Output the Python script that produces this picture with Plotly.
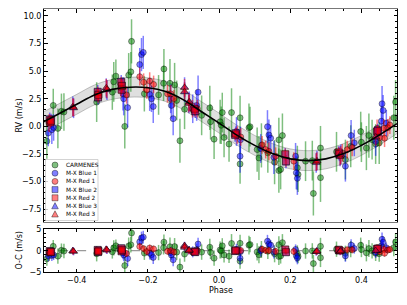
import numpy as np
import plotly.graph_objects as go

# ---------------- data ----------------
model_phase = [-0.50, -0.45, -0.40, -0.35, -0.30, -0.25, -0.20, -0.15, -0.10, -0.05, 0.00,
               0.05, 0.10, 0.15, 0.20, 0.25, 0.30, 0.35, 0.40, 0.45, 0.50]
model_rv = [0.30, 1.15, 2.00, 2.85, 3.35, 3.55, 3.50, 3.15, 2.40, 1.35, 0.30,
            -0.79, -1.72, -2.46, -2.94, -3.10, -2.94, -2.46, -1.72, -0.79, 0.25]
band_half = 0.9

carm_phase = [-0.484, -0.466, -0.453, -0.443, -0.436, -0.344, -0.300, -0.296, -0.290, -0.265,
              -0.254, -0.248, -0.246, -0.210, -0.170, -0.156, -0.155, -0.138, -0.125, -0.119,
              -0.110, -0.097, -0.049, -0.026, -0.024, -0.014, 0.003, 0.006, 0.009, 0.014,
              0.028, 0.035, 0.059, 0.059, 0.084, 0.087, 0.107, 0.112, 0.119, 0.137,
              0.156, 0.168, 0.168, 0.173, 0.178, 0.220, 0.222, 0.243, 0.262, 0.265,
              0.285, 0.285, 0.330, 0.355, 0.370, 0.398, 0.400, 0.414, 0.421, 0.430,
              0.440, 0.450, 0.491, 0.496]
carm_rv = [-1.34, 1.90, -0.18, 1.37, 1.30, 2.20, 3.10, 4.04, 4.55, 0.00,
           4.64, 4.94, 7.70, 2.95, 2.85, 3.90, 5.20, 3.90, 3.75, 2.35,
           -1.30, 1.55, 1.00, 1.67, 0.42, -1.16, 0.42, 0.10, 1.25, -1.00,
           -1.60, 1.25, 0.78, -3.40, -0.12, -0.03, -2.10, -2.86, -1.72, -2.40,
           -3.24, -1.22, -4.00, -3.90, -0.83, -3.75, -4.35, -3.15, -3.10, -6.07,
           -1.96, -4.64, -2.30, -3.00, -1.80, -0.47, -1.43, -1.96, -0.83, -1.20,
           -1.60, -1.50, 0.78, 2.20]
carm_err = [1.6, 1.5, 1.8, 1.6, 1.7, 1.8, 1.6, 1.8, 1.5, 2.0,
            2.0, 1.8, 2.0, 1.6, 1.8, 1.6, 1.8, 2.2, 2.0, 1.8,
            2.0, 1.8, 1.8, 2.0, 1.6, 1.8, 2.0, 1.7, 1.8, 1.8,
            1.6, 2.2, 2.0, 1.8, 2.2, 1.8, 2.0, 2.0, 2.0, 1.8,
            2.0, 2.0, 2.0, 1.8, 2.0, 2.0, 1.6, 1.8, 1.8, 2.0,
            2.0, 2.2, 1.8, 1.8, 1.9, 1.8, 1.8, 2.0, 2.0, 1.8,
            1.8, 1.9, 2.0, 2.0]

blue1_phase = [-0.480, -0.470, -0.465, -0.270, -0.268, -0.257, -0.223, -0.218, -0.213, -0.195,
               -0.190, -0.185, -0.136, -0.134, -0.129, -0.074, -0.063, -0.059, 0.049, 0.060,
               0.059, 0.117, 0.136, 0.140, 0.145, 0.154, 0.215, 0.217, 0.220, 0.355,
               0.371, 0.380, 0.440, 0.456, 0.458, 0.461, 0.470]
blue1_rv = [-0.60, -0.30, -0.10, 2.95, 2.50, 1.70, 5.60, 6.50, 6.70, 2.90,
            2.50, 1.80, 2.50, 1.90, 0.70, 1.60, 1.90, 3.10, -0.47, -1.22,
            -2.70, -2.00, -0.03, -0.78, -1.07, -2.80, -2.70, -4.20, -4.70, -3.60,
            -0.83, -1.50, -1.37, 0.47, 2.05, 1.45, 0.30]
blue1_err = [1.2, 1.3, 1.2, 1.5, 1.5, 1.8, 1.5, 1.5, 1.5, 1.5,
             1.2, 1.5, 1.3, 1.2, 1.5, 1.3, 1.4, 1.5, 1.3, 1.2,
             1.5, 1.3, 1.5, 1.4, 1.2, 1.5, 1.2, 1.5, 1.5, 1.4,
             1.4, 1.2, 1.3, 1.4, 1.6, 1.4, 1.2]

red1_phase = [-0.478, -0.276, -0.260, -0.223, -0.212, -0.203, -0.195, -0.184, -0.145, -0.136,
              -0.127, -0.075, -0.061, 0.051, 0.061, 0.121, 0.131, 0.140, 0.159, 0.210,
              0.346, 0.360, 0.374, 0.444, 0.452, 0.463, 0.465, 0.474, 0.480]
red1_rv = [0.30, 3.48, 2.85, 4.50, 4.00, 3.30, 4.10, 3.80, 2.95, 2.95,
           2.50, 1.60, 1.60, -0.78, -0.96, -1.67, -2.10, -2.26, -2.70, -3.15,
           -2.40, -2.10, -1.90, -0.18, -1.00, -0.18, -1.07, -0.12, 0.12]
red1_err = [0.8] * len(red1_phase)

# several exposures per epoch overlap for the M-X 2 / M-X 3 channels
blue2_phase = [-0.476, -0.474, -0.472, -0.341, -0.340, -0.339, -0.275, -0.274, -0.273, -0.069, -0.067,
               0.045, 0.047, 0.186, 0.188, 0.336, 0.338, 0.444, 0.446]
blue2_rv = [0.65, 0.40, 0.55, 3.15, 2.60, 2.90, 4.05, 3.35, 3.70, 1.55, 1.35,
            -0.78, -0.60, -2.56, -3.20, -2.40, -2.55, -0.50, -0.35]
blue2_err = [0.6] * len(blue2_phase)
red2_phase = [-0.476, -0.474, -0.472, -0.341, -0.340, -0.339, -0.275, -0.274, -0.273, -0.069, -0.067,
              0.045, 0.047, 0.186, 0.188, 0.336, 0.338, 0.444, 0.446]
red2_rv = [0.60, 0.35, 0.50, 3.10, 2.65, 2.85, 4.00, 3.30, 3.65, 1.60, 1.40,
           -0.75, -0.65, -2.50, -3.15, -2.35, -2.50, -0.45, -0.40]
red2_err = [0.5] * len(red2_phase)

blue3_phase = [-0.411, -0.409, -0.317, -0.315, -0.097, -0.097, -0.085, -0.084, 0.273, 0.275, 0.340, 0.342, 0.440]
blue3_rv = [1.80, 1.65, 3.45, 3.30, 3.55, 3.10, 2.10, 2.25, -3.30, -3.10, -2.70, -2.55, -1.00]
blue3_err = [0.9] * len(blue3_phase)
red3_phase = [-0.411, -0.409, -0.317, -0.315, -0.097, -0.097, -0.085, -0.084, 0.273, 0.275, 0.340, 0.342, 0.440]
red3_rv = [1.75, 1.70, 3.50, 3.35, 3.50, 3.15, 2.05, 2.20, -3.25, -3.15, -2.75, -2.60, -0.95]
red3_err = [0.8] * len(red3_phase)

legend_labels = ["CARMENES", "M-X Blue 1", "M-X Red 1", "M-X Blue 2", "M-X Red 2", "M-X Blue 3", "M-X Red 3"]

# ---------------- styles ----------------
GREEN = "rgba(0,128,0,0.5)"
BLUE = "rgba(0,0,255,0.5)"
RED = "rgba(255,0,0,0.5)"
EDGE = "rgba(0,0,0,0.55)"
FONT = "DejaVu Sans"

series = [
    (carm_phase, carm_rv, carm_err, GREEN, "circle", 6),
    (blue1_phase, blue1_rv, blue1_err, BLUE, "circle", 6),
    (red1_phase, red1_rv, red1_err, RED, "circle", 6),
    (blue2_phase, blue2_rv, blue2_err, BLUE, "square", 7),
    (red2_phase, red2_rv, red2_err, RED, "square", 7),
    (blue3_phase, blue3_rv, blue3_err, BLUE, "triangle-up", 7),
    (red3_phase, red3_rv, red3_err, RED, "triangle-up", 7),
]

fig = go.Figure()

mp = np.array(model_phase)
mr = np.array(model_rv)
fig.add_trace(go.Scatter(x=model_phase, y=list(mr + band_half), mode="lines",
                         line=dict(color="rgba(110,110,110,0.7)", width=0.6, shape="spline"),
                         showlegend=False, xaxis="x", yaxis="y", hoverinfo="skip"))
fig.add_trace(go.Scatter(x=model_phase, y=list(mr - band_half), mode="lines",
                         line=dict(color="rgba(110,110,110,0.7)", width=0.6, shape="spline"),
                         fill="tonexty", fillcolor="rgba(128,128,128,0.25)",
                         showlegend=False, xaxis="x", yaxis="y", hoverinfo="skip"))

for ph, rv, er, col, sym, sz in series:
    fig.add_trace(go.Scatter(
        x=ph, y=rv, mode="markers", xaxis="x", yaxis="y", showlegend=False,
        error_y=dict(type="data", array=er, color=col, thickness=1.5, width=0),
        marker=dict(symbol=sym, size=sz, color=col, line=dict(color=EDGE, width=0.7))))

fig.add_trace(go.Scatter(x=model_phase, y=model_rv, mode="lines",
                         line=dict(color="black", width=1.6, shape="spline"),
                         showlegend=False, xaxis="x", yaxis="y"))

# residuals
fig.add_trace(go.Scatter(x=[-0.5, 0.5], y=[0, 0], mode="lines", xaxis="x2", yaxis="y2",
                         line=dict(color="gray", width=1, dash="dash"), showlegend=False))
for ph, rv, er, col, sym, sz in series:
    res = list(np.array(rv) - np.interp(ph, mp, mr))
    fig.add_trace(go.Scatter(
        x=ph, y=res, mode="markers", xaxis="x2", yaxis="y2", showlegend=False,
        error_y=dict(type="data", array=er, color=col, thickness=1.5, width=0),
        marker=dict(symbol=sym, size=sz, color=col, line=dict(color=EDGE, width=0.7))))

# pixel -> paper helpers for layout decorations
L, T, W, H = 44, 9, 353, 263


def px(xp):
    return (xp - L) / W


def py(yp):
    return (T + H - yp) / H


# custom compact legend built from paper-anchored shapes + annotations
fig.add_shape(type="rect", xref="paper", yref="paper", x0=px(45.5), x1=px(98), y0=py(220.5), y1=py(159.5),
              line=dict(color="rgba(200,200,200,1)", width=0.8), fillcolor="rgba(255,255,255,0.8)",
              layer="above")
leg_y = [165, 173.2, 181.4, 189.6, 197.8, 206, 214.2]
for i, (lab, s) in enumerate(zip(legend_labels, series)):
    col, sym = s[3], s[4]
    common = dict(xref="paper", yref="paper", xsizemode="pixel", ysizemode="pixel",
                  xanchor=px(55), yanchor=py(leg_y[i]), fillcolor=col,
                  line=dict(color=EDGE, width=0.7), layer="above")
    if sym == "circle":
        fig.add_shape(type="circle", x0=-3, x1=3, y0=-3, y1=3, **common)
    elif sym == "square":
        fig.add_shape(type="rect", x0=-3, x1=3, y0=-3, y1=3, **common)
    else:
        fig.add_shape(type="path", path="M -3.3,-2.8 L 3.3,-2.8 L 0,3.4 Z", **common)
    fig.add_annotation(x=px(64), y=py(leg_y[i]), xref="paper", yref="paper", text=lab, showarrow=False,
                       xanchor="left", yanchor="middle", font=dict(family=FONT, size=5.8, color="black"))

# axis titles
fig.add_annotation(x=px(19), y=py(115.5), xref="paper", yref="paper", text="RV (m/s)", textangle=-90,
                   showarrow=False, xanchor="center", yanchor="middle", font=dict(family=FONT, size=8))
fig.add_annotation(x=px(19), y=py(250.5), xref="paper", yref="paper", text="O-C (m/s)", textangle=-90,
                   showarrow=False, xanchor="center", yanchor="middle", font=dict(family=FONT, size=8))
fig.add_annotation(x=px(220.5), y=py(290), xref="paper", yref="paper", text="Phase",
                   showarrow=False, xanchor="center", yanchor="middle", font=dict(family=FONT, size=8))

axis_common = dict(ticks="inside", mirror="allticks", showline=True, linecolor="black", linewidth=1,
                   tickcolor="black", ticklen=3.5, tickwidth=0.8, showgrid=False, zeroline=False,
                   automargin=False, tickfont=dict(family=FONT, size=8, color="black"))

fig.update_layout(
    width=407, height=305,
    margin=dict(l=L, r=407 - L - W, t=T, b=305 - T - H, autoexpand=False),
    paper_bgcolor="white", plot_bgcolor="white",
    font=dict(family=FONT, size=8, color="black"),
    showlegend=False,
    xaxis=dict(domain=[0, 1], anchor="y", range=[-0.492, 0.5], dtick=0.2, showticklabels=False,
               minor=dict(ticks="inside", dtick=0.05, ticklen=2, tickcolor="black"),
               **{**axis_common, "linecolor": "#777"}),
    yaxis=dict(domain=[0.19, 1], anchor="x", range=[-8.66, 10.63], dtick=2.5, tickformat=".1f",
               minor=dict(ticks="inside", dtick=0.5, ticklen=2, tickcolor="black"),
               **axis_common),
    xaxis2=dict(domain=[0, 1], anchor="y2", matches="x", range=[-0.492, 0.5], dtick=0.2,
                tickformat=".1f",
                minor=dict(ticks="inside", dtick=0.05, ticklen=2, tickcolor="black"),
                **axis_common),
    yaxis2=dict(domain=[0, 0.1635], anchor="x2", range=[-5, 5.1], tickvals=[-5, 0, 5],
                minor=dict(ticks="inside", dtick=1, ticklen=2, tickcolor="black"),
                **axis_common),
)

fig.write_html("out.html", config={"displayModeBar": False},
               post_script="document.body.style.margin='0';document.body.style.padding='0';")
